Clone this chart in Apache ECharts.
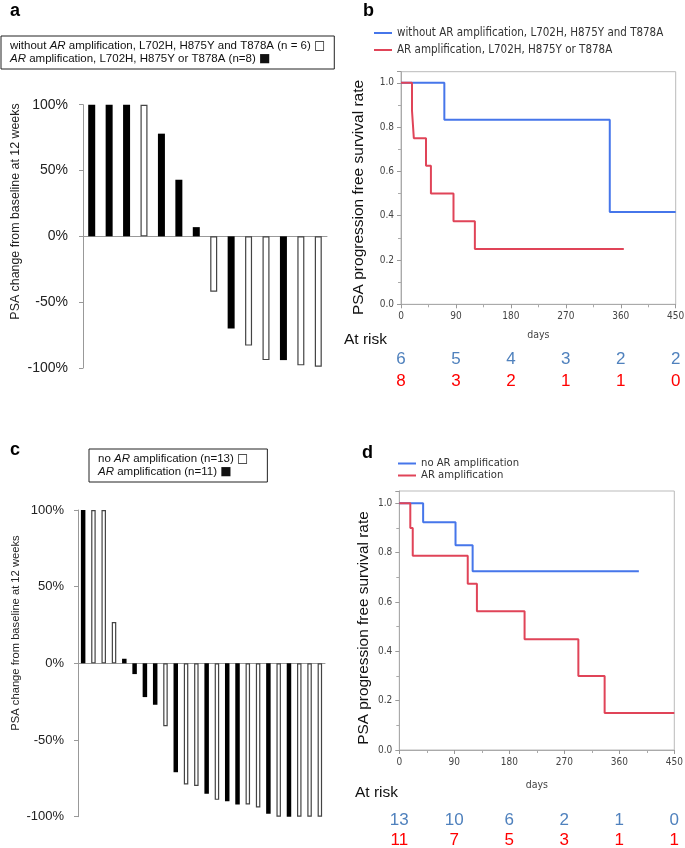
<!DOCTYPE html>
<html><head><meta charset="utf-8">
<script src="https://cdn.jsdelivr.net/npm/echarts@6/dist/echarts.min.js"></script>
<style>html,body{margin:0;padding:0;background:#fff}#c{width:685px;height:848px}</style>
</head><body><div id="c"></div>
<script>
// ---------- Panel a (waterfall) ----------
const aValues    = [100,100,100,100,78,43,7,-42,-70,-83,-94,-94,-98,-99];
const aAmplified = [1,1,1,0,1,1,1,0,1,0,0,1,0,0];
const aNames = ['without AR amplification, L702H, H875Y and T878A (n = 6)', 'AR amplification, L702H, H875Y or T878A (n=8)'];
// ---------- Panel c (waterfall) ----------
const cValues    = [100,100,100,27,3,-7,-22,-27,-41,-71,-79,-80,-85,-89,-90,-92,-92,-94,-98,-100,-100,-100,-100,-100];
const cAmplified = [1,0,0,0,1,1,1,1,0,1,0,0,1,0,1,1,0,0,1,0,1,0,0,0];
const cNames = ['no AR amplification (n=13)', 'AR amplification (n=11)'];
// ---------- Panel b (Kaplan-Meier) ----------
const bNames = ['without AR amplification, L702H, H875Y and T878A', 'AR amplification, L702H, H875Y or T878A'];
const bNoTimes  = [0, 71, 342, 450];
const bNoSurv   = [1, 0.833, 0.417, 0.417];
const bAmpTimes = [0, 18, 21, 41, 49, 86, 121, 365];
const bAmpSurv  = [1, 0.875, 0.75, 0.625, 0.5, 0.375, 0.25, 0.25];
const riskDays  = [0, 90, 180, 270, 360, 450];
const bRiskNo   = [6, 5, 4, 3, 2, 2];
const bRiskAmp  = [8, 3, 2, 1, 1, 0];
// ---------- Panel d (Kaplan-Meier) ----------
const dNames = ['no AR amplification', 'AR amplification'];
const dNoTimes  = [0, 39, 92, 120, 392];
const dNoSurv   = [1, 0.923, 0.83, 0.725, 0.725];
const dAmpTimes = [0, 18, 22, 112, 127, 205, 293, 336, 450];
const dAmpSurv  = [1, 0.9, 0.787, 0.674, 0.562, 0.449, 0.3, 0.15, 0.15];
const dRiskNo   = [13, 10, 6, 2, 1, 0];
const dRiskAmp  = [11, 7, 5, 3, 1, 1];

const ARIAL = 'Liberation Sans, Arial, sans-serif';
const TAHO = 'DejaVu Sans Condensed, DejaVu Sans, sans-serif';
const BLUE = '#4676ea', RED = '#e04458';
const RISK_BLUE = '#4f81bd', RISK_RED = '#ff0000';

function split(vals, flags, want) { return vals.map((v, i) => flags[i] === want ? v : '-'); }
function pairs(t, s) { return t.map((x, i) => [x, s[i]]); }
const italicAR = name => name.replace('AR', '{i|AR}');
const boxLegendFormatter = names => name => italicAR(name) + ' {sq|' + (name === names[0] ? '\u25A1' : '\u25A0') + '}';

const chart = echarts.init(document.getElementById('c'), null, {renderer: 'canvas'});

const waterfallY = (gi, fs, margin) => ({
  gridIndex: gi, type: 'value', min: -100, max: 100, interval: 50,
  axisLine: {show: true, lineStyle: {color: '#999', width: 1}},
  axisTick: {show: true, length: 4, lineStyle: {color: '#999'}},
  splitLine: {show: false},
  axisLabel: {formatter: '{value}%', fontSize: fs, fontFamily: ARIAL, color: '#222', margin: margin}
});
const waterfallX = (gi, n) => ({
  gridIndex: gi, type: 'category', data: Array.from({length: n}, (_, i) => String(i + 1)),
  axisLine: {show: true, onZero: true, lineStyle: {color: '#999', width: 1}},
  axisTick: {show: false}, axisLabel: {show: false}, splitLine: {show: false}
});
const kmY = gi => ({
  gridIndex: gi, type: 'value', min: 0, max: 1.05, interval: 0.2,
  axisLine: {show: true, lineStyle: {color: '#aaa'}},
  axisTick: {show: true, length: 4, lineStyle: {color: '#999'}},
  minorTick: {show: true, splitNumber: 2, length: 3, lineStyle: {color: '#aaa'}},
  splitLine: {show: false},
  axisLabel: {showMaxLabel: false, formatter: v => v.toFixed(1), fontSize: 10, fontFamily: TAHO, color: '#444', margin: 7}
});
const kmX = (gi, gap) => ({
  gridIndex: gi, type: 'value', min: 0, max: 450, interval: 90,
  name: 'days', nameLocation: 'middle', nameGap: gap,
  nameTextStyle: {fontSize: 10.5, fontFamily: TAHO, color: '#444', verticalAlign: 'middle'},
  axisLine: {show: true, lineStyle: {color: '#aaa'}},
  axisTick: {show: true, length: 4, lineStyle: {color: '#999'}},
  minorTick: {show: true, splitNumber: 2, length: 3, lineStyle: {color: '#aaa'}},
  splitLine: {show: false},
  axisLabel: {fontSize: 10, fontFamily: TAHO, color: '#444', margin: 7}
});
const riskX = (gi, offset, counts, color) => ({
  gridIndex: gi, type: 'value', min: 0, max: 450, interval: 90, position: 'bottom', offset: offset,
  axisLine: {show: false}, axisTick: {show: false}, splitLine: {show: false},
  axisLabel: {margin: 0, verticalAlign: 'middle', fontSize: 17, fontFamily: ARIAL, color: color,
    formatter: v => { const i = riskDays.indexOf(v); return i >= 0 ? String(counts[i]) : ''; }}
});
const boxLegend = (names, left, top, padding) => ({
  data: names, orient: 'vertical', left: left, top: top, align: 'left', selectedMode: false,
  icon: 'rect', itemWidth: 0, itemHeight: 0, itemStyle: {opacity: 0}, itemGap: 1,
  padding: padding, borderColor: '#222', borderWidth: 1,
  formatter: boxLegendFormatter(names),
  textStyle: {fontSize: 11.5, fontFamily: ARIAL, color: '#111',
    rich: {i: {fontStyle: 'italic', fontSize: 11.5, fontFamily: ARIAL, color: '#111'},
           sq: {fontSize: 12, fontFamily: 'DejaVu Sans', color: '#111'}}}
});
const lineLegend = (names, left, top, gap, fs) => ({
  data: names, orient: 'vertical', left: left, top: top, selectedMode: false,
  icon: 'rect', itemWidth: 18, itemHeight: 2, itemGap: gap, padding: 0,
  textStyle: {fontSize: fs, fontFamily: TAHO, color: '#333'}
});

const whiteBar = {color: '#fff', borderColor: '#444', borderWidth: 1.2};
const blackBar = {color: '#000'};

const option = {
  animation: false,
  backgroundColor: '#fff',
  grid: [
    {left: 83, top: 104.7, width: 244, height: 263.3, outerBoundsMode: 'none'},
    {left: 401, top: 71.7, width: 274.7, height: 232.6, outerBoundsMode: 'none', show: true, borderColor: '#bbb', borderWidth: 1},
    {left: 78, top: 510, width: 247, height: 306.7, outerBoundsMode: 'none'},
    {left: 399.3, top: 491, width: 275, height: 259, outerBoundsMode: 'none', show: true, borderColor: '#bbb', borderWidth: 1}
  ],
  xAxis: [
    waterfallX(0, aValues.length),
    kmX(1, 30.7),
    riskX(1, 54.7, bRiskNo, RISK_BLUE),
    riskX(1, 77.4, bRiskAmp, RISK_RED),
    waterfallX(2, cValues.length),
    kmX(3, 35),
    riskX(3, 70, dRiskNo, RISK_BLUE),
    riskX(3, 90.7, dRiskAmp, RISK_RED)
  ],
  yAxis: [
    waterfallY(0, 14, 15),
    kmY(1),
    waterfallY(2, 13, 14),
    kmY(3)
  ],
  legend: [
    boxLegend(aNames, 1, 36, [4, 9, 4, 3]),
    boxLegend(cNames, 89, 449, [4, 19, 4, 3]),
    lineLegend(bNames, 374, 27, 5, 11.5),
    lineLegend(dNames, 398, 458, 1, 11.2)
  ],
  series: [
    {name: aNames[0], type: 'bar', xAxisIndex: 0, yAxisIndex: 0, barWidth: 7, barGap: '-100%', data: split(aValues, aAmplified, 0), itemStyle: whiteBar},
    {name: aNames[1], type: 'bar', xAxisIndex: 0, yAxisIndex: 0, barWidth: 7, barGap: '-100%', data: split(aValues, aAmplified, 1), itemStyle: blackBar},
    {name: cNames[0], type: 'bar', xAxisIndex: 4, yAxisIndex: 2, barWidth: 4.5, barGap: '-100%', data: split(cValues, cAmplified, 0), itemStyle: whiteBar},
    {name: cNames[1], type: 'bar', xAxisIndex: 4, yAxisIndex: 2, barWidth: 4.5, barGap: '-100%', data: split(cValues, cAmplified, 1), itemStyle: blackBar},
    {name: bNames[0], type: 'line', xAxisIndex: 1, yAxisIndex: 1, step: 'end', symbol: 'none', data: pairs(bNoTimes, bNoSurv), lineStyle: {color: BLUE, width: 2}, itemStyle: {color: BLUE}},
    {name: bNames[1], type: 'line', xAxisIndex: 1, yAxisIndex: 1, step: 'end', symbol: 'none', data: pairs(bAmpTimes, bAmpSurv), lineStyle: {color: RED, width: 2}, itemStyle: {color: RED}},
    {name: dNames[0], type: 'line', xAxisIndex: 5, yAxisIndex: 3, step: 'end', symbol: 'none', data: pairs(dNoTimes, dNoSurv), lineStyle: {color: BLUE, width: 2}, itemStyle: {color: BLUE}},
    {name: dNames[1], type: 'line', xAxisIndex: 5, yAxisIndex: 3, step: 'end', symbol: 'none', data: pairs(dAmpTimes, dAmpSurv), lineStyle: {color: RED, width: 2}, itemStyle: {color: RED}}
  ],
  graphic: [
    {type: 'text', left: 10, top: 2, style: {text: 'a', font: 'bold 18px ' + ARIAL, fill: '#000'}},
    {type: 'text', left: 363, top: 2, style: {text: 'b', font: 'bold 18px ' + ARIAL, fill: '#000'}},
    {type: 'text', left: 10, top: 441, style: {text: 'c', font: 'bold 18px ' + ARIAL, fill: '#000'}},
    {type: 'text', left: 362, top: 444, style: {text: 'd', font: 'bold 18px ' + ARIAL, fill: '#000'}},
    {type: 'text', x: 16, y: 211.5, rotation: Math.PI / 2, style: {text: 'PSA change from baseline at 12 weeks', font: '12.4px ' + ARIAL, fill: '#222', align: 'center', verticalAlign: 'middle'}},
    {type: 'text', x: 16, y: 633, rotation: Math.PI / 2, style: {text: 'PSA change from baseline at 12 weeks', font: '11.2px ' + ARIAL, fill: '#222', align: 'center', verticalAlign: 'middle'}},
    {type: 'text', x: 359, y: 197.5, rotation: Math.PI / 2, style: {text: 'PSA progression free survival rate', font: '15.5px ' + ARIAL, fill: '#111', align: 'center', verticalAlign: 'middle'}},
    {type: 'text', x: 364, y: 628, rotation: Math.PI / 2, style: {text: 'PSA progression free survival rate', font: '15.4px ' + ARIAL, fill: '#111', align: 'center', verticalAlign: 'middle'}},
    {type: 'text', x: 344, y: 340, style: {text: 'At risk', font: '15.5px ' + ARIAL, fill: '#111', verticalAlign: 'middle'}},
    {type: 'text', x: 355, y: 792.7, style: {text: 'At risk', font: '15.5px ' + ARIAL, fill: '#111', verticalAlign: 'middle'}}
  ]
};
chart.setOption(option);
</script>
</body></html>
